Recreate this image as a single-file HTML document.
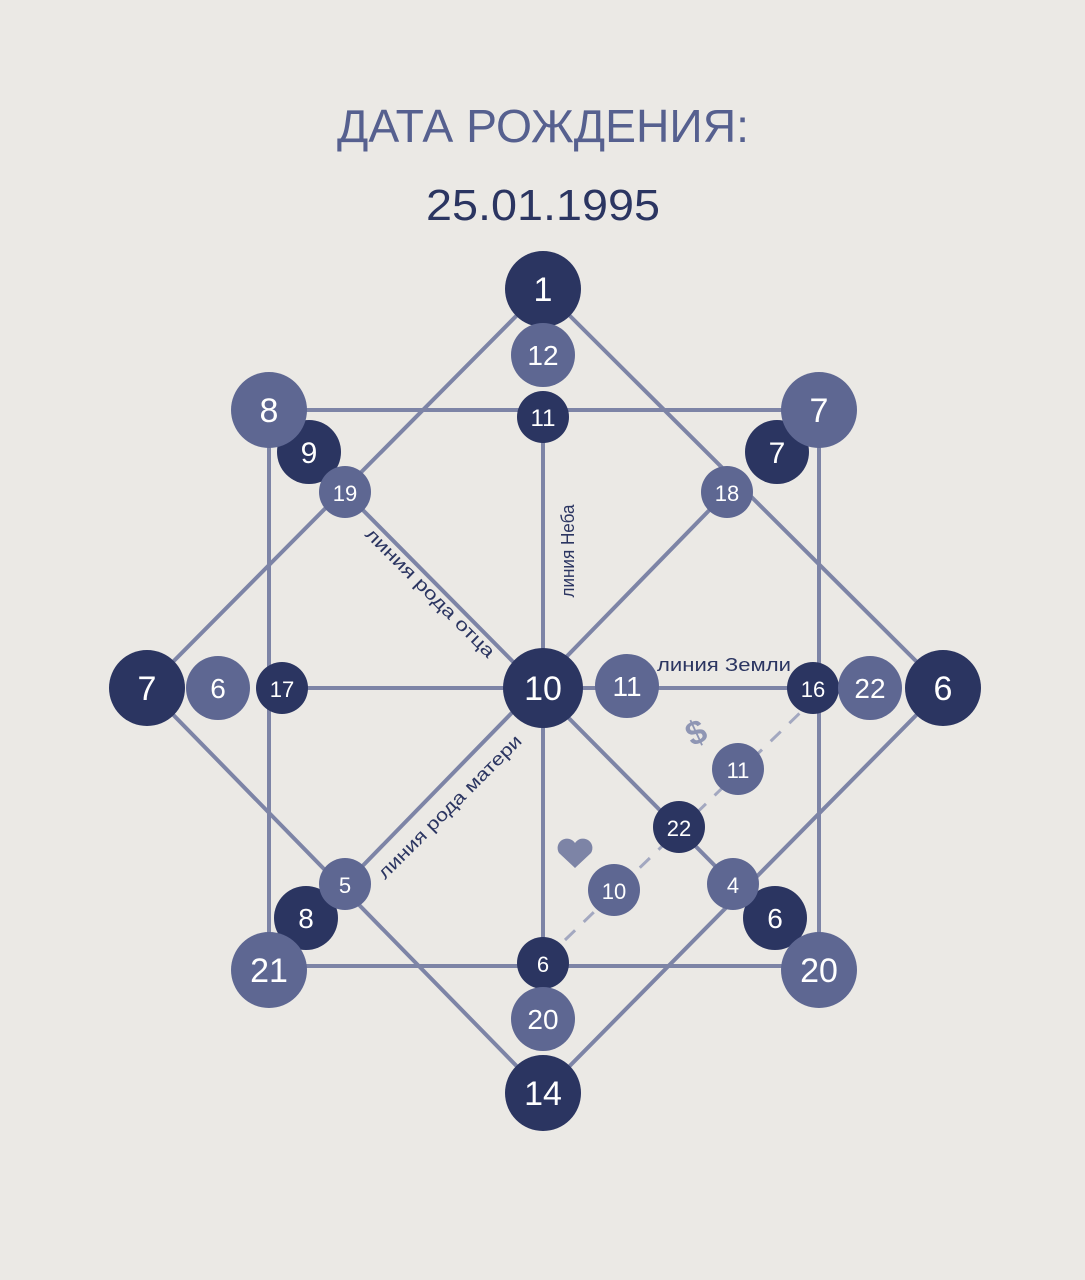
<!DOCTYPE html>
<html><head><meta charset="utf-8"><style>
body{margin:0;background:#ebe9e5;}
svg{display:block}
text{font-family:"Liberation Sans",sans-serif;}
</style></head><body>
<svg width="1085" height="1280" viewBox="0 0 1085 1280">
<rect width="1085" height="1280" fill="#ebe9e5"/>
<text x="543" y="142" text-anchor="middle" font-size="46" fill="#56608f" textLength="412" lengthAdjust="spacingAndGlyphs">ДАТА РОЖДЕНИЯ:</text>
<text x="543" y="220" text-anchor="middle" font-size="44" fill="#2b3561" textLength="234" lengthAdjust="spacingAndGlyphs">25.01.1995</text>
<g stroke="#7d84a6" stroke-width="4" fill="none">
<rect x="269" y="410" width="550" height="556"/>
<polygon points="543,289 943,688 543,1093 147,688"/>
<line x1="345" y1="492" x2="733" y2="884"/>
<line x1="727" y1="492" x2="345" y2="884"/>
<line x1="543" y1="417" x2="543" y2="963"/>
<line x1="282" y1="688" x2="813" y2="688"/>
<line x1="565" y1="940" x2="803" y2="710" stroke="#a3a8c0" stroke-width="3" stroke-dasharray="14,12"/>
</g>
<g font-size="26" fill="#fff" text-anchor="middle">
<g fill="#2b3561">
<circle cx="543" cy="289" r="38"/><circle cx="543" cy="417" r="26"/><circle cx="309" cy="452" r="32"/>
<circle cx="777" cy="452" r="32"/><circle cx="147" cy="688" r="38"/><circle cx="282" cy="688" r="26"/>
<circle cx="813" cy="688" r="26"/><circle cx="943" cy="688" r="38"/><circle cx="679" cy="827" r="26"/>
<circle cx="775" cy="918" r="32"/><circle cx="306" cy="918" r="32"/><circle cx="543" cy="963" r="26"/>
<circle cx="543" cy="1093" r="38"/><circle cx="543" cy="688" r="40"/>
</g>
<g fill="#5e6792">
<circle cx="543" cy="355" r="32"/><circle cx="269" cy="410" r="38"/><circle cx="345" cy="492" r="26"/>
<circle cx="819" cy="410" r="38"/><circle cx="727" cy="492" r="26"/><circle cx="218" cy="688" r="32"/>
<circle cx="627" cy="686" r="32"/><circle cx="870" cy="688" r="32"/><circle cx="738" cy="769" r="26"/>
<circle cx="614" cy="890" r="26"/><circle cx="733" cy="884" r="26"/><circle cx="819" cy="970" r="38"/>
<circle cx="345" cy="884" r="26"/><circle cx="269" cy="970" r="38"/><circle cx="543" cy="1019" r="32"/>
</g>
<text x="543" y="301" font-size="34">1</text>
<text x="543" y="365" font-size="28">12</text>
<text x="543" y="426" font-size="24">11</text>
<text x="269" y="422" font-size="34">8</text>
<text x="309" y="463" font-size="30">9</text>
<text x="345" y="501" font-size="22">19</text>
<text x="819" y="422" font-size="34">7</text>
<text x="777" y="463" font-size="30">7</text>
<text x="727" y="501" font-size="22">18</text>
<text x="147" y="700" font-size="34">7</text>
<text x="218" y="698" font-size="28">6</text>
<text x="282" y="697" font-size="22">17</text>
<text x="543" y="700" font-size="34">10</text>
<text x="627" y="696" font-size="28">11</text>
<text x="813" y="697" font-size="22">16</text>
<text x="870" y="698" font-size="28">22</text>
<text x="943" y="700" font-size="34">6</text>
<text x="738" y="778" font-size="22">11</text>
<text x="679" y="836" font-size="22">22</text>
<text x="614" y="899" font-size="22">10</text>
<text x="733" y="893" font-size="22">4</text>
<text x="775" y="928" font-size="28">6</text>
<text x="819" y="982" font-size="34">20</text>
<text x="345" y="893" font-size="22">5</text>
<text x="306" y="928" font-size="28">8</text>
<text x="269" y="982" font-size="34">21</text>
<text x="543" y="972" font-size="22">6</text>
<text x="543" y="1029" font-size="28">20</text>
<text x="543" y="1105" font-size="34">14</text>
</g>
<g fill="#2b3561" font-size="18">
<text transform="translate(574,551) rotate(-90)" text-anchor="middle" textLength="93" lengthAdjust="spacingAndGlyphs">линия Неба</text>
<text transform="translate(426,597) rotate(45)" text-anchor="middle" textLength="175" lengthAdjust="spacingAndGlyphs">линия рода отца</text>
<text transform="translate(454,811) rotate(-45)" text-anchor="middle" textLength="195" lengthAdjust="spacingAndGlyphs">линия рода матери</text>
<text x="724" y="671" text-anchor="middle" textLength="134" lengthAdjust="spacingAndGlyphs">линия Земли</text>
</g>
<text transform="translate(701,743) rotate(-25)" text-anchor="middle" font-size="34" fill="#8f96b4" font-weight="bold">$</text>
<path d="M575,868 L559,853 A8,8 0 0 1 575,843 A8,8 0 0 1 591,853 Z" fill="#7d84a6"/>
</svg>
</body></html>
